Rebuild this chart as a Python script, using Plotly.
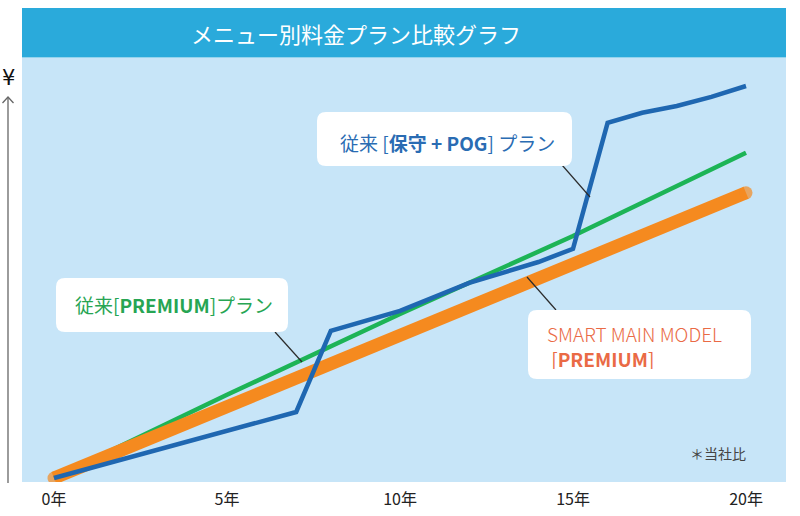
import plotly.graph_objects as go

# ---------------- data ----------------
years_blue = [0, 7, 8, 10, 12, 14, 15, 16, 17, 18, 19, 20]
cost_blue = [0, 16.5, 36.8, 41.8, 48.8, 54.0, 57.3, 88.8, 91.3, 93.0, 95.3, 98.0]

years_green = [0, 5, 10, 15, 20]
cost_green = [0, 20.8, 41.0, 60.5, 81.3]

years_orange = [0, 5, 10, 15, 20]
cost_orange = [0, 18.0, 35.8, 54.0, 71.3]

tick_years = [0, 5, 10, 15, 20]
tick_labels = ["0年", "5年", "10年", "15年", "20年"]

title_text = "メニュー別料金プラン比較グラフ"
label_blue = "従来 [<b>保守 + POG</b>] プラン"
label_green = "従来[<b>PREMIUM</b>]プラン"
label_orange_1 = "SMART MAIN MODEL"
label_orange_2 = " [<b>PREMIUM</b>]"
note_text = "＊当社比"

# ---------------- layout constants ----------------
FW, FH = 800, 516
L, R, T, B = 22, 786, 58, 482
W, H = R - L, B - T
FONT = "Noto Sans CJK JP"

BLUE = "#1f67b1"
GREEN = "#1db456"
ORANGE = "#f58a1f"


def px(x):
    return (x - L) / W


def py(y):
    return (B - y) / H


def rounded_rect(x0, y0, x1, y1, r):
    pts = [
        f"M {px(x0 + r)} {py(y0)}",
        f"L {px(x1 - r)} {py(y0)}",
        f"Q {px(x1)} {py(y0)} {px(x1)} {py(y0 + r)}",
        f"L {px(x1)} {py(y1 - r)}",
        f"Q {px(x1)} {py(y1)} {px(x1 - r)} {py(y1)}",
        f"L {px(x0 + r)} {py(y1)}",
        f"Q {px(x0)} {py(y1)} {px(x0)} {py(y1 - r)}",
        f"L {px(x0)} {py(y0 + r)}",
        f"Q {px(x0)} {py(y0)} {px(x0 + r)} {py(y0)}",
        "Z",
    ]
    return " ".join(pts)


fig = go.Figure()

fig.add_trace(go.Scatter(x=years_green, y=cost_green, mode="lines",
                         line=dict(color=GREEN, width=4.5), hoverinfo="skip"))
end_caps = [13 if i in (0, len(years_orange) - 1) else 0 for i in range(len(years_orange))]
fig.add_trace(go.Scatter(x=years_orange, y=cost_orange, mode="lines+markers",
                         line=dict(color=ORANGE, width=13),
                         marker=dict(color=ORANGE, size=end_caps, line=dict(width=0)),
                         hoverinfo="skip"))
fig.add_trace(go.Scatter(x=years_blue, y=cost_blue, mode="lines",
                         line=dict(color=BLUE, width=4.5), hoverinfo="skip"))

shapes = []
# title bar
shapes.append(dict(type="rect", xref="paper", yref="paper", x0=0, x1=1,
                   y0=py(57.5), y1=py(8), fillcolor="#2aaadb", line=dict(width=0),
                   layer="above"))
# y arrow
shapes.append(dict(type="line", xref="paper", yref="paper", x0=px(8), x1=px(8),
                   y0=py(483), y1=py(97), line=dict(color="#666666", width=1.3)))
shapes.append(dict(type="path", xref="paper", yref="paper",
                   path=f"M {px(2.5)} {py(103)} L {px(8)} {py(97)} L {px(13.5)} {py(103)}",
                   line=dict(color="#666666", width=1.3)))
# connectors
for (a, b, c, d) in [(562, 165, 590, 197), (275, 332, 302, 362), (527, 277, 556, 310)]:
    shapes.append(dict(type="line", xref="paper", yref="paper", x0=px(a), y0=py(b),
                       x1=px(c), y1=py(d), line=dict(color="#2b2b2b", width=1.2),
                       layer="above"))
# label boxes
for (a, b, c, d) in [(317, 112, 572, 166), (56, 278, 288, 332), (528, 310, 751, 379)]:
    shapes.append(dict(type="path", xref="paper", yref="paper",
                       path=rounded_rect(a, b, c, d, 9), fillcolor="white",
                       line=dict(width=0), layer="above"))
fig.update_layout(shapes=shapes)

ann = []
ann.append(dict(text=title_text, xref="paper", yref="paper", x=px(356), y=py(33),
                showarrow=False, xanchor="center", yanchor="middle",
                font=dict(family=FONT, size=22, color="white")))
ann.append(dict(text="¥", xref="paper", yref="paper", x=px(8), y=py(78),
                showarrow=False, xanchor="center", yanchor="middle",
                font=dict(family="DejaVu Sans", size=21, color="#111111")))
ann.append(dict(text=label_blue, xref="paper", yref="paper", x=px(338), y=py(142),
                showarrow=False, xanchor="left", yanchor="middle",
                font=dict(family=FONT, size=19, color="#2a6cb3")))
ann.append(dict(text=label_green, xref="paper", yref="paper", x=px(73), y=py(304),
                showarrow=False, xanchor="left", yanchor="middle",
                font=dict(family=FONT, size=19, color="#27a553")))
ann.append(dict(text=label_orange_1, xref="paper", yref="paper", x=px(545), y=py(333),
                showarrow=False, xanchor="left", yanchor="middle", height=22,
                font=dict(family=FONT, size=19, color="#ea6a45", weight=300)))
ann.append(dict(text=label_orange_2, xref="paper", yref="paper", x=px(545), y=py(358),
                showarrow=False, xanchor="left", yanchor="middle", height=22,
                font=dict(family=FONT, size=19, color="#ea6a45")))
ann.append(dict(text=note_text, xref="paper", yref="paper", x=px(718), y=py(453),
                showarrow=False, xanchor="center", yanchor="middle",
                font=dict(family=FONT, size=14, color="#444444")))
fig.update_layout(annotations=ann)

x_per_px = 20 / (746 - 54)
fig.update_layout(
    width=FW, height=FH,
    margin=dict(l=L, r=FW - R, t=T, b=FH - B, pad=0, autoexpand=False),
    paper_bgcolor="white", plot_bgcolor="#c7e5f8",
    showlegend=False,
    xaxis=dict(range=[(L - 54) * x_per_px, (R - 54) * x_per_px],
               tickvals=tick_years, ticktext=tick_labels, automargin=False,
               showgrid=False, zeroline=False, showline=False, ticks="",
               ticklabelstandoff=6,
               tickfont=dict(family=FONT, size=16, color="#222222"), fixedrange=True),
    yaxis=dict(range=[(478 - B) / 4, (478 - T) / 4], showgrid=False, zeroline=False,
               automargin=False,
               showline=False, showticklabels=False, ticks="", fixedrange=True),
)

fig.write_html("out.html")
